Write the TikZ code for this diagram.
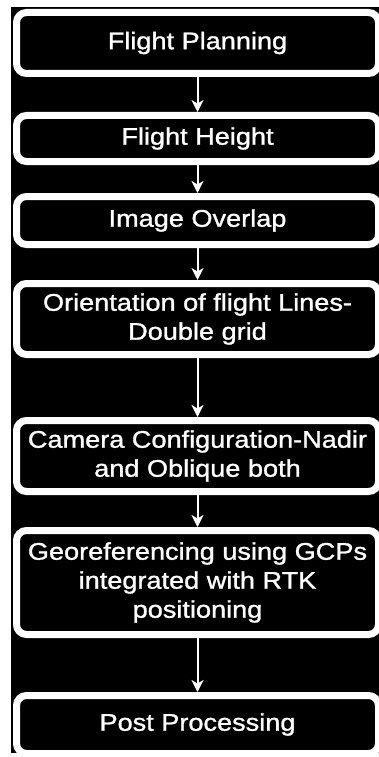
\documentclass[tikz,border=0pt]{standalone}
\usepackage{fontspec}
\setmainfont{Liberation Sans}[FakeStretch=1.13,FakeBold=1.2]
\usetikzlibrary{arrows.meta}
\tikzset{
  flowbox/.style={draw=white, fill=black, text=white, line width=7pt,
    rounded corners=10pt, minimum width=362pt, inner sep=0pt,
    align=center, font=\fontsize{24}{29}\selectfont},
  flowarrow/.style={draw=white, line width=2pt,
    -{Stealth[length=12pt,width=12pt,inset=3.5pt]}}
}
\begin{document}
\begin{tikzpicture}[x=1pt,y=-1pt]
\useasboundingbox (0,0) rectangle (379,757);
\fill[white] (0,0) rectangle (379,757);
\clip (0,0) rectangle (379,757);
\fill[black] (11,7) rectangle (379,752.5);
\node[flowbox, minimum height=61pt] (n1) at (197.5,43) {Flight Planning};
\node[flowbox, minimum height=46pt] (n2) at (197.5,138.5) {Flight Height};
\node[flowbox, minimum height=48pt] (n3) at (197.5,220.5) {Image Overlap};
\node[flowbox, minimum height=71pt] (n4) at (197.5,319) {Orientation of flight Lines-\\Double grid};
\node[flowbox, minimum height=71pt] (n5) at (197.5,456) {Camera Configuration-Nadir\\and Oblique both};
\node[flowbox, minimum height=104pt] (n6) at (197.5,582.5) {Georeferencing using GCPs\\integrated with RTK\\positioning};
\node[flowbox, minimum height=58pt] (n7) at (197.5,724.5) {Post Processing};
\draw[flowarrow] (n1.south) -- (n2.north);
\draw[flowarrow] (n2.south) -- (n3.north);
\draw[flowarrow] (n3.south) -- (n4.north);
\draw[flowarrow] (n4.south) -- (n5.north);
\draw[flowarrow] (n5.south) -- (n6.north);
\draw[flowarrow] (n6.south) -- (n7.north);
\end{tikzpicture}
\end{document}
